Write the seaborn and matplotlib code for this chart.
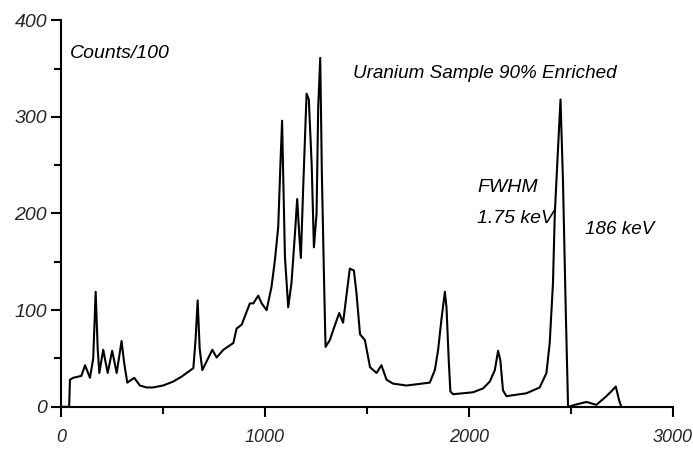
import matplotlib
matplotlib.use("Agg")
import matplotlib.pyplot as plt
import seaborn as sns
import pandas as pd

# spectrum (channel, counts/100)
channel = [0, 40, 44, 60, 100, 118, 142, 158, 170, 180, 188, 207, 229, 251, 273, 297, 310, 325,
           359, 387, 420, 451, 500, 549, 590, 616, 649, 660, 670, 680, 693, 742, 763, 796, 845,
           861, 886,
           926, 943, 967, 984, 1008, 1032, 1049, 1065, 1077, 1084, 1090, 1098, 1114, 1130,
           1147, 1158, 1168, 1176, 1187, 1204, 1215, 1229, 1240, 1253, 1261, 1271, 1279,
           1289, 1297, 1318, 1334, 1364, 1383, 1403, 1416, 1436, 1449, 1466, 1490, 1515,
           1547, 1571, 1596, 1628, 1694, 1808, 1833, 1849, 1865, 1882, 1890, 1901, 1909,
           1922, 2020, 2069, 2102, 2127, 2143, 2154, 2167, 2184, 2282, 2347, 2380, 2396,
           2412, 2421, 2437, 2449, 2461, 2475, 2486, 2519, 2576, 2625, 2674, 2698, 2720,
           2736, 2747]
counts = [0, 0, 28, 30, 32, 43, 30, 50, 119, 60, 35, 59, 35, 58, 35, 68, 45, 25,
          30, 22, 20, 20, 22, 26, 31, 35, 40, 70, 110, 60, 38, 59, 51, 59, 66,
          81, 85,
          107, 107, 115, 107, 100, 124, 152, 186, 258, 296, 234, 155, 103, 128,
          179, 215, 179, 154, 224, 324, 318, 251, 165, 200, 310, 361, 241,
          138, 62, 69, 79, 97, 87, 121, 143, 141, 117, 75, 69, 41,
          35, 43, 28, 24, 22, 25, 38, 59, 90, 119, 103, 48, 16,
          13, 15, 19, 26, 38, 58, 48, 17, 11, 14, 20, 35, 66,
          128, 200, 268, 318, 234, 97, 0, 2, 5, 2, 11, 16, 21,
          7, 0]

df = pd.DataFrame({"channel": channel, "counts": counts})

sns.set_style("white")
plt.rcParams["font.family"] = ["Liberation Sans", "DejaVu Sans"]

fig = plt.figure(figsize=(6.93, 4.49), dpi=100)
ax = fig.add_axes([0.088, 0.094, 0.883, 0.861])
sns.lineplot(data=df, x="channel", y="counts", ax=ax, color="black", linewidth=1.5)

ax.set_xlim(0, 3000)
ax.set_ylim(0, 400)
ax.set_xticks([0, 1000, 2000, 3000])
ax.set_xticks([500, 1500, 2500], minor=True)
ax.set_yticks([0, 100, 200, 300, 400])
ax.set_yticks([50, 150, 250, 350], minor=True)
ax.tick_params(which="both", direction="out", color="black", width=1.5,
               bottom=True, left=True)
ax.tick_params(which="major", length=7)
ax.tick_params(which="minor", length=5)
ax.tick_params(axis="x", labelsize=13, pad=9)
ax.tick_params(axis="y", labelsize=14, pad=3)
for lab in ax.get_xticklabels() + ax.get_yticklabels():
    lab.set_fontstyle("italic")
ax.set_xlabel("")
ax.set_ylabel("")
sns.despine(ax=ax)
for s in ["left", "bottom"]:
    ax.spines[s].set_color("black")
    ax.spines[s].set_linewidth(1.5)

txt = dict(fontstyle="italic", color="black", transform=fig.transFigure, va="center")
fig.text(70 / 693, 1 - 53 / 449, "Counts/100", fontsize=14, **txt)
fig.text(353 / 693, 1 - 73 / 449, "Uranium Sample 90% Enriched", fontsize=13.6, **txt)
fig.text(477 / 693, 1 - 188 / 449, "FWHM", fontsize=14, **txt)
fig.text(477 / 693, 1 - 218 / 449, "1.75 keV", fontsize=14, **txt)
fig.text(585 / 693, 1 - 230 / 449, "186 keV", fontsize=13.6, **txt)

fig.savefig("out.png", dpi=100)
